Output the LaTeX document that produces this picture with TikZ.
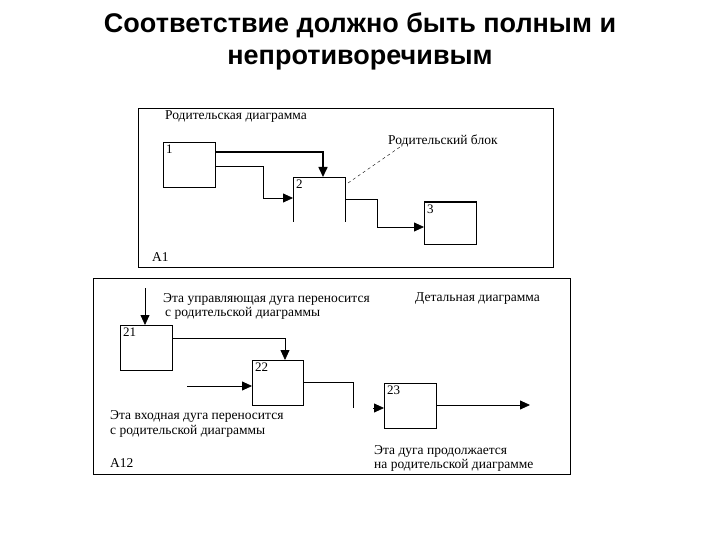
\documentclass[tikz,border=0pt]{standalone}
\usepackage{fontspec}
\setmainfont{Liberation Serif}
\newfontfamily\ttl{Liberation Sans}
\usetikzlibrary{arrows.meta}
\begin{document}
\begin{tikzpicture}[x=1pt,y=-1pt,
 box/.style={draw,thick,minimum width=52pt,anchor=north west,inner sep=0pt},
 lab/.style={anchor=west,font=\fontsize{13.5}{14}\selectfont,inner sep=0pt},
 num/.style={anchor=north west,font=\fontsize{13}{14}\selectfont,inner sep=3pt},
 ar/.style={thick,-{Triangle[length=10pt,width=9pt]}}]
\useasboundingbox (0,0) rectangle (720,540);
\node[font=\ttl\bfseries\fontsize{27}{32}\selectfont,align=center] (title) at (360,41) {Соответствие должно быть полным и\\ непротиворечивым};
% top diagram
\node[draw,thin,minimum width=415pt,minimum height=159pt,anchor=north west,inner sep=0pt] (f1) at (138,108) {};
\node[lab] (t1) at (165,117) {Родительская диаграмма};
\node[box,minimum height=45pt] (b1) at (163,142) {};
\node[num] at (b1.north west) {1};
\coordinate (b2nw) at (293,177);
\draw[thick] (293,222) -- (293,177) -- (345,177) -- (345,222);
\node[num] (n2) at (b2nw) {2};
\node[box,minimum height=42pt] (b3) at (424,202) {};
\draw[very thick] (b3.north west) -- (b3.north east);
\node[num] at (b3.north west) {3};
\draw[ar,line width=1.6pt] (215,152) -- (323,152) -- (323,177);
\draw[ar] (215,166) -- (263,166) -- (263,198) -- (293,198);
\draw[ar] (345,199) -- (377,199) -- (377,227) -- (424,227);
\node[lab] (pb) at (388,141) {Родительский блок};
\draw[dashed] (348,183) -- (400,147);
\node[lab] at (152,257) {A1};
% bottom diagram
\node[draw,thin,minimum width=477pt,minimum height=196pt,anchor=north west,inner sep=0pt] (f2) at (93,278) {};
\node[box,minimum height=45pt] (b21) at (120,325) {};
\node[num] at (b21.north west) {21};
\node[box,minimum height=45pt,minimum width=51pt] (b22) at (252,360) {};
\node[num] at (b22.north west) {22};
\node[box,minimum height=45pt] (b23) at (384,383) {};
\node[num] at (b23.north west) {23};
\draw[ar] (145,288) -- (145,325);
\draw[ar] (172,338) -- (285,338) -- (285,360);
\draw[ar] (187,386) -- (252,386);
\draw[thick] (303,382) -- (353,382) -- (353,408);
\draw[ar] (373,408) -- (384,408);
\draw[ar] (436,405) -- (530,405);
\node[lab] at (163,299) {Эта управляющая дуга переносится};
\node[lab] at (165,313) {с родительской диаграммы};
\node[lab] at (415,299) {Детальная диаграмма};
\node[lab] at (110,416) {Эта входная дуга переносится};
\node[lab] at (110,431) {с родительской диаграммы};
\node[lab] at (110,463) {A12};
\node[lab] at (374,451) {Эта дуга продолжается};
\node[lab] at (374,465) {на родительской диаграмме};
\end{tikzpicture}
\end{document}
